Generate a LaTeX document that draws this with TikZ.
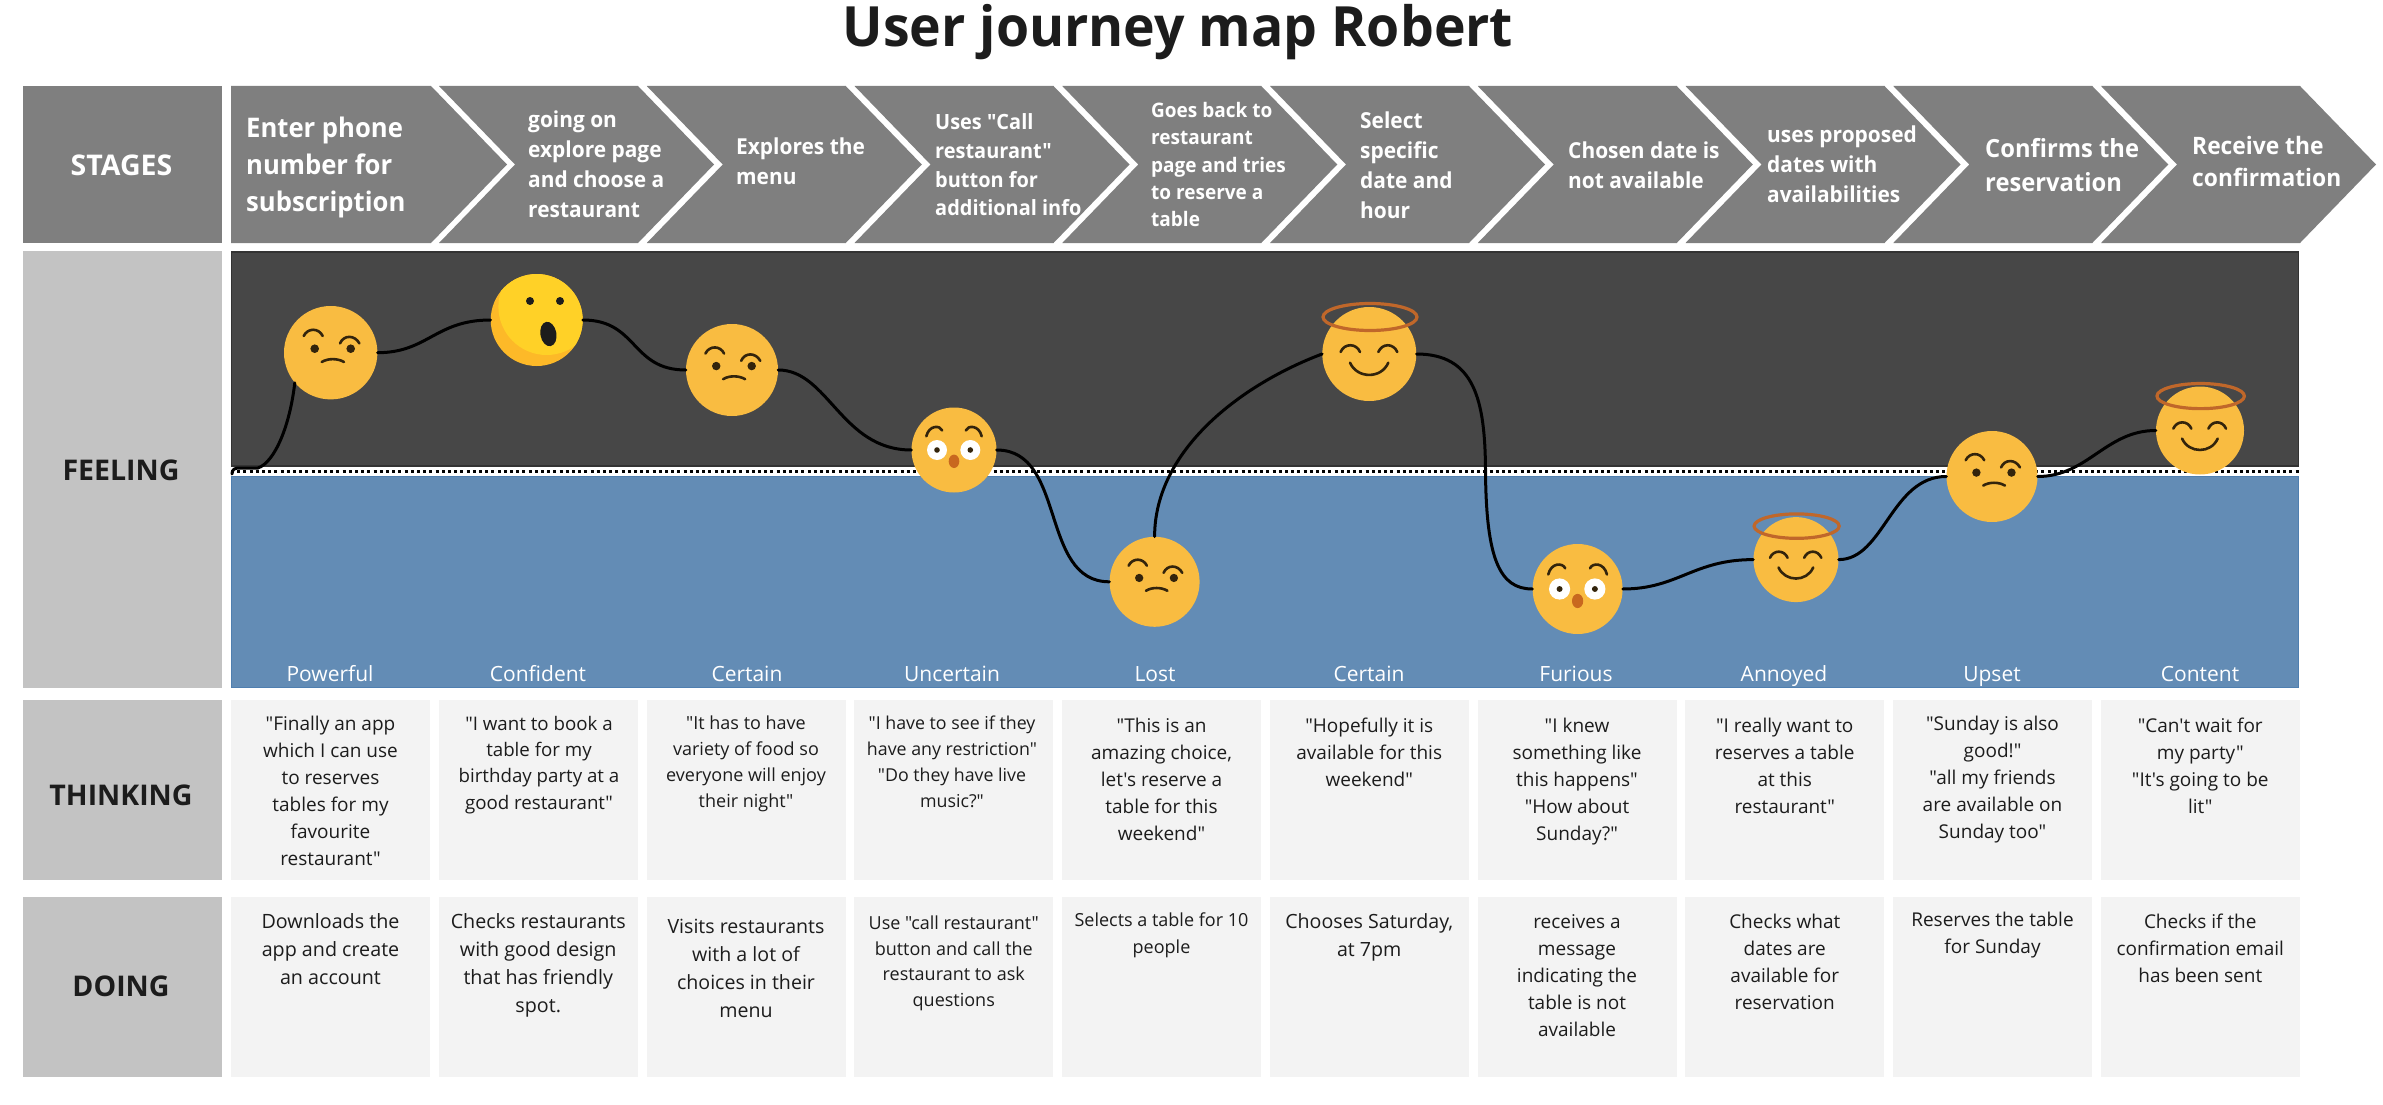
\documentclass[tikz,border=0pt]{standalone}
\usepackage{fontspec}
\usetikzlibrary{calc}
\setmainfont{Open Sans}[Ligatures=TeXOff]
\newfontfamily\stagefont{Open Sans}[FakeStretch=0.95,Ligatures=TeXOff]
\newfontfamily\titlefont{Open Sans}[FakeStretch=0.965,Ligatures=TeXOff]
\newcommand\fsz[2]{\fontsize{#1}{#2}\selectfont}
\definecolor{stagegray}{HTML}{7F7F7F}
\definecolor{headgray}{HTML}{C3C3C3}
\definecolor{darkpanel}{HTML}{474747}
\definecolor{darkedge}{HTML}{333333}
\definecolor{bluepanel}{HTML}{638CB5}
\definecolor{blueedge}{HTML}{4F7FB0}
\definecolor{cellgray}{HTML}{F3F3F3}
\definecolor{inkdark}{HTML}{1C1C1C}
\definecolor{facegold}{HTML}{F9BC41}
\definecolor{faceyellow}{HTML}{FFD127}
\definecolor{faceshade}{HTML}{FDB928}
\definecolor{halobrown}{HTML}{C0672A}
\definecolor{featdark}{HTML}{33240C}
\definecolor{nosebrown}{HTML}{C8681F}
\tikzset{
  x=1pt,y=-1pt,
  rowhead/.style={rectangle,inner sep=0pt,minimum width=199pt,fill=headgray},
  headtext/.style={inner sep=0pt,text=inkdark,font=\bfseries\fsz{28.5}{32}},
  cellbox/.style={rectangle,inner sep=0pt,minimum width=199pt,fill=cellgray},
  celltext/.style={inner sep=0pt,anchor=north,align=center,text=inkdark},
  stagetext/.style={inner sep=0pt,anchor=west,align=left,text=white},
  moodtext/.style={inner sep=0pt,anchor=base,text=white,font=\fsz{21}{25}},
  facedisc/.style={circle,inner sep=0pt,fill=facegold},
  journey/.style={line width=3pt,black,line cap=round},
  feat/.style={line width=2.6pt,featdark,line cap=round},
  halo/.style={line width=3.2pt,halobrown},
  pics/quizzical/.style={code={
    \draw[feat] (-27,-16.7) .. controls (-23,-25) and (-12,-25) .. (-8,-16.7);
    \draw[feat] (9.3,-9.3) .. controls (13,-18) and (24,-18) .. (28.7,-9.3);
    \fill[featdark] (-16,-4) circle[radius=4.3];
    \fill[featdark] (20,-4) circle[radius=4.3];
    \draw[feat] (-9,9.3) .. controls (-3,5.5) and (7,5.5) .. (13.3,9.3);
  }},
  pics/wideeyed/.style={code={
    \draw[feat] (-27.7,-13.7) .. controls (-25,-25) and (-14,-25) .. (-11.7,-19.5);
    \draw[feat] (11.7,-19.5) .. controls (14,-25) and (25,-25) .. (27.7,-13.7);
    \fill[white] (-17,0) circle[radius=10];
    \fill[white] (16.3,0) circle[radius=10];
    \fill[featdark] (-17,0) circle[radius=2.8];
    \fill[featdark] (16.3,0) circle[radius=2.8];
    \fill[nosebrown] (0,11.3) ellipse[x radius=5.3,y radius=6.7];
  }},
  pics/angel/.style={code={
    \draw[feat] (-28.7,-2) .. controls (-25,-11) and (-13,-11) .. (-9.3,-2);
    \draw[feat] (9,-2) .. controls (13,-11) and (24,-11) .. (28,-2);
    \draw[feat] (-19.3,8.7) .. controls (-12,25) and (12,25) .. (19,8.7);
    \draw[halo] (0.7,-37) ellipse[x radius=47,y radius=13.5];
  }},
}
\begin{document}
\begin{tikzpicture}
\useasboundingbox (0,0) rectangle (2383,1105);

% title
\node[inner sep=0pt,anchor=base,text=inkdark,font=\titlefont\bfseries\fsz{55.5}{60}] (title) at (1178,46.7) {User journey map Robert};

% row heads
\node[rowhead,fill=stagegray,minimum height=157pt] (hstages) at (122.5,164.5) {};
\node[rowhead,minimum height=437pt] (hfeeling) at (122.5,469.5) {};
\node[rowhead,minimum height=180pt] (hthinking) at (122.5,790) {};
\node[rowhead,minimum height=180pt] (hdoing) at (122.5,987) {};
\node[headtext,text=white] (lstages) at (121.5,165) {STAGES};
\node[headtext] (lfeeling) at (121,470.5) {FEELING};
\node[headtext] (lthinking) at (121,795) {THINKING};
\node[headtext] (ldoing) at (121,986) {DOING};

% chevrons
\fill[stagegray] (231,86) -- (431,86) -- (507,164.5) -- (431,243) -- (231,243) -- cycle;
\foreach \i in {0,...,8}{
  \fill[stagegray] ({439+207.75*\i},86) -- ({638+207.75*\i},86) -- ({714+207.75*\i},164.5)
    -- ({638+207.75*\i},243) -- ({439+207.75*\i},243) -- ({515+207.75*\i},164.5) -- cycle;
}
\node[stagetext,font=\stagefont\bfseries\fsz{27}{36.7}] (s1) at (246,167.5) {Enter phone\\number for\\subscription};
\node[stagetext,font=\stagefont\bfseries\fsz{22}{30}] (s2) at (528,164.5) {going on\\explore page\\and choose a\\restaurant};
\node[stagetext,font=\stagefont\bfseries\fsz{22}{30}] (s3) at (736,161) {Explores the\\menu};
\node[stagetext,font=\stagefont\bfseries\fsz{21}{28.7}] (s4) at (935,165) {Uses "Call\\restaurant"\\button for\\additional info};
\node[stagetext,font=\stagefont\bfseries\fsz{20}{27.4}] (s5) at (1151,164.5) {Goes back to\\restaurant\\page and tries\\to reserve a\\table};
\node[stagetext,font=\stagefont\bfseries\fsz{22}{30}] (s6) at (1360,165.5) {Select\\specific\\date and\\hour};
\node[stagetext,font=\stagefont\bfseries\fsz{22}{30}] (s7) at (1568,165) {Chosen date is\\not available};
\node[stagetext,font=\stagefont\bfseries\fsz{22}{30}] (s8) at (1767,164.5) {uses proposed\\dates with\\availabilities};
\node[stagetext,font=\stagefont\bfseries\fsz{25}{34}] (s9) at (1985,165) {Confirms the\\reservation};
\node[stagetext,font=\stagefont\bfseries\fsz{24}{32}] (s10) at (2192,161) {Receive the\\confirmation};

% feeling panels
\node[rectangle,inner sep=0pt,fill=darkpanel,draw=darkedge,line width=1.5pt,minimum width=2067pt,minimum height=214pt] (panelhigh) at (1265,359) {};
\node[rectangle,inner sep=0pt,fill=bluepanel,draw=blueedge,line width=1.5pt,minimum width=2067pt,minimum height=211pt] (panellow) at (1265,582) {};
\coordinate (midL) at (231,471);
\coordinate (midR) at (2299,471);
\draw[black,line width=3pt,dash pattern=on 3pt off 3.2pt] (midL) -- (midR);

% faces
\node[facedisc,minimum size=93.4pt] (f1) at (330.7,352.7) {};
\node[facedisc,fill=faceshade,minimum size=92pt] (f2) at (536.7,320) {};
\node[facedisc,minimum size=92pt] (f3) at (732,370) {};
\node[facedisc,minimum size=85pt] (f4) at (954,450) {};
\node[facedisc,minimum size=90pt] (f5) at (1154.6,581.8) {};
\node[facedisc,minimum size=94pt] (f6) at (1369.3,354) {};
\node[facedisc,minimum size=90pt] (f7) at (1577.6,589) {};
\node[facedisc,minimum size=85pt] (f8) at (1796,559.6) {};
\node[facedisc,minimum size=91pt] (f9) at (1992,476.5) {};
\node[facedisc,minimum size=88pt] (f10) at (2200,430.5) {};
\begin{scope}
  \clip (f2) circle[radius=46];
  \fill[faceyellow] ($(f2)+(10,-13.3)$) circle[radius=48.3];
\end{scope}
\fill[inkdark] (530,301) circle[radius=4];
\fill[inkdark] (560,301) circle[radius=4];
\fill[inkdark,shift={(548.4,334)},rotate=10] (0,0) ellipse[x radius=8,y radius=12.3];
\pic[scale=1] at (f1) {quizzical};
\pic[scale=0.985] at (f3) {quizzical};
\pic[scale=0.964] at (f5) {quizzical};
\pic[scale=0.975] at (f9) {quizzical};
\pic[scale=1] at (f4) {wideeyed};
\pic[scale=1.06] at (f7) {wideeyed};
\pic[scale=1] at (f6) {angel};
\pic[scale=0.905] at (f8) {angel};
\pic[scale=0.93] at (f10) {angel};

% journey line
\coordinate (start) at (232,474);
\coordinate (flat) at (258,468);
\coordinate (m67) at (1485.5,470);
\draw[journey] (start) .. controls (232,469) and (235,468) .. (240,468) -- (flat)
  .. controls (275,462) and (290,425) .. (f1.220);
\draw[journey] (f1.east) .. controls +(50,0) and +(-55,0) .. (f2.west);
\draw[journey] (f2.east) .. controls +(55,0) and +(-55,0) .. (f3.west);
\draw[journey] (f3.east) .. controls +(50,0) and +(-70,0) .. (f4.west);
\draw[journey] (f4.east) .. controls +(70,0) and +(-70,0) .. (f5.west);
\draw[journey] (f5.north) .. controls +(0,-86) and (1240,385) .. (f6.west);
\draw[journey] (f6.east) .. controls +(58,0) and (1485,400) .. (m67)
  .. controls (1486,560) and (1500,589) .. (f7.west);
\draw[journey] (f7.east) .. controls +(55,0) and +(-60,0) .. (f8.west);
\draw[journey] (f8.east) .. controls +(45,0) and +(-55,0) .. (f9.west);
\draw[journey] (f9.east) .. controls +(50,0) and +(-50,0) .. (f10.west);

% mood labels
\node[moodtext] (m1) at (330,681.5) {Powerful};
\node[moodtext] (m2) at (538,681.5) {Confident};
\node[moodtext] (m3) at (747,681.5) {Certain};
\node[moodtext] (m4) at (952,681.5) {Uncertain};
\node[moodtext] (m5) at (1155,681.5) {Lost};
\node[moodtext] (m6) at (1369,681.5) {Certain};
\node[moodtext] (m7) at (1576,681.5) {Furious};
\node[moodtext] (m8) at (1784,681.5) {Annoyed};
\node[moodtext] (m9) at (1992,681.5) {Upset};
\node[moodtext] (m10) at (2200,681.5) {Content};

% cells
\foreach \i in {0,...,9}{
  \node[cellbox,minimum height=180pt] (th\i) at ({330.5+207.75*\i},790) {};
  \node[cellbox,minimum height=180pt] (do\i) at ({330.5+207.75*\i},987) {};
}

% thinking texts
\node[celltext,font=\fsz{19}{27}] (tt1) at (330.5,711) {\strut"Finally an app\\which I can use\\to reserves\\tables for my\\favourite\\restaurant"};
\node[celltext,font=\fsz{18.7}{26.2}] (tt2) at (539,712) {\strut"I want to book a\\table for my\\birthday party at a\\good restaurant"};
\node[celltext,font=\fsz{18}{26}] (tt3) at (746,711.5) {\strut"It has to have\\variety of food so\\everyone will enjoy\\their night"};
\node[celltext,font=\fsz{17.8}{26}] (tt4) at (952,711.5) {\strut"I have to see if they\\have any restriction"\\"Do they have live\\music?"};
\node[celltext,font=\fsz{19}{27}] (tt5) at (1161.5,713) {\strut"This is an\\amazing choice,\\let's reserve a\\table for this\\weekend"};
\node[celltext,font=\fsz{19}{27}] (tt6) at (1369.25,713) {\strut"Hopefully it is\\available for this\\weekend"};
\node[celltext,font=\fsz{19}{27}] (tt7) at (1577,713) {\strut"I knew\\something like\\this happens"\\"How about\\Sunday?"};
\node[celltext,font=\fsz{19}{27}] (tt8) at (1784.75,713) {\strut"I really want to\\reserves a table\\at this\\restaurant"};
\node[celltext,font=\fsz{19}{27}] (tt9) at (1992.5,711) {\strut"Sunday is also\\good!"\\"all my friends\\are available on\\Sunday too"};
\node[celltext,font=\fsz{19}{27}] (tt10) at (2200.25,713) {\strut"Can't wait for\\my party"\\"It's going to be\\lit"};

% doing texts
\node[celltext,font=\fsz{19.7}{28}] (dt1) at (330.5,909) {\strut Downloads the\\app and create\\an account};
\node[celltext,font=\fsz{19.7}{28}] (dt2) at (538.25,909) {\strut Checks restaurants\\with good design\\that has friendly\\spot.};
\node[celltext,font=\fsz{19.6}{28}] (dt3) at (746,913.5) {\strut Visits restaurants\\with a lot of\\choices in their\\menu};
\node[celltext,font=\fsz{18}{25.5}] (dt4) at (953.75,911.5) {\strut Use "call restaurant"\\button and call the\\restaurant to ask\\questions};
\node[celltext,font=\fsz{18}{26.4}] (dt5) at (1161.5,908) {\strut Selects a table for 10\\people};
\node[celltext,font=\fsz{19.6}{28}] (dt6) at (1369.25,909) {\strut Chooses Saturday,\\at 7pm};
\node[celltext,font=\fsz{19}{27}] (dt7) at (1577,909.5) {\strut receives a\\message\\indicating the\\table is not\\available};
\node[celltext,font=\fsz{19}{27}] (dt8) at (1784.75,909) {\strut Checks what\\dates are\\available for\\reservation};
\node[celltext,font=\fsz{19}{27}] (dt9) at (1992.5,907) {\strut Reserves the table\\for Sunday};
\node[celltext,font=\fsz{19}{27}] (dt10) at (2200.25,909) {\strut Checks if the\\confirmation email\\has been sent};
\end{tikzpicture}
\end{document}
